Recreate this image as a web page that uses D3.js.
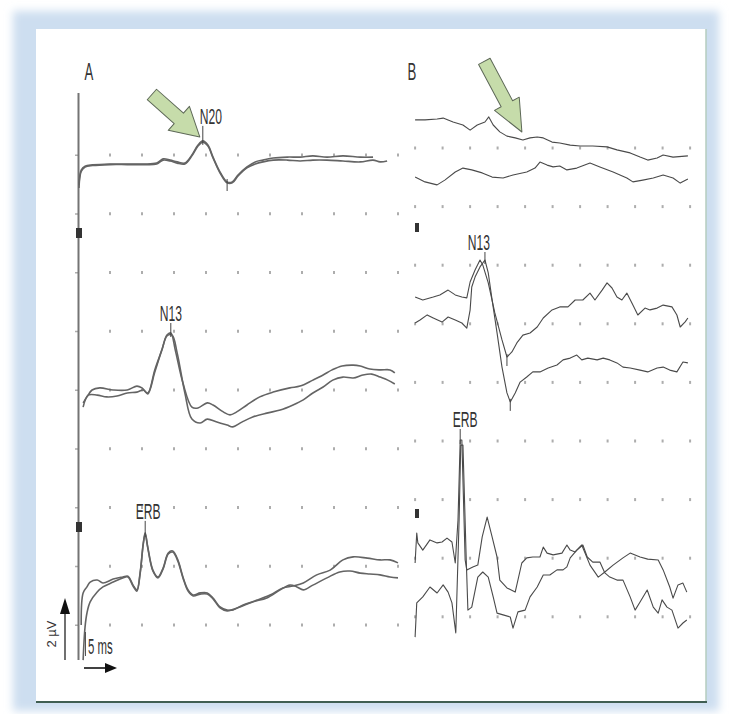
<!DOCTYPE html>
<html>
<head>
<meta charset="utf-8">
<script src="https://cdn.jsdelivr.net/npm/d3@7"></script>
<style>
body { margin: 0; background: #fff; }
text { font-family: "Liberation Sans", Arial, sans-serif; fill: #333; }
</style>
</head>
<body>
<svg id="chart" width="730" height="714"></svg>
<script>
// traces: [time ms, amplitude uV] (negative = up, EEG style)
var a1Upper = [[0.15,0.7],[0.5,0.2],[1.1,0.07],[2.3,0.03],[5,0],[7.7,0],[10.2,0],[12.3,-0.03],[13.3,-0.17],[14.4,-0.13],[15.5,-0.07],[16.7,-0.03],[17.8,-0.3],[18.75,-0.63],[19.5,-0.77],[20.3,-0.63],[21.1,-0.23],[22.2,0.27],[23.3,0.6],[24.1,0.6],[25,0.37],[26.4,0.1],[27.7,-0.07],[28.9,-0.13],[30.5,-0.2],[32.7,-0.23],[34.7,-0.23],[36.7,-0.27],[38.9,-0.23],[41.4,-0.27],[44.1,-0.23],[46.1,-0.23]];
var a1Lower = [[0.15,0.8],[0.5,0.25],[1.1,0.1],[2.3,0.05],[5,0.02],[7.7,0.02],[10.2,0.02],[12.3,0],[13.3,-0.13],[14.4,-0.1],[15.5,-0.03],[16.7,0],[17.8,-0.27],[18.75,-0.6],[19.5,-0.73],[20.3,-0.6],[21.1,-0.2],[22.2,0.3],[23.3,0.63],[24.1,0.63],[25,0.4],[26.4,0.13],[27.7,0],[28.9,-0.07],[30.5,-0.13],[32.7,-0.13],[34.7,-0.1],[36.7,-0.13],[38.9,-0.13],[41.4,-0.1],[44.1,-0.07],[46.1,-0.13],[47.2,-0.07],[48.3,-0.1]];

var a2Upper = [[0.8,0.43],[1.4,0.23],[2.2,0],[3.4,-0.07],[5.5,0],[7.7,0],[9.2,-0.13],[10,-0.07],[10.9,0.1],[12,-0.67],[13.1,-1.33],[13.9,-1.83],[14.5,-1.9],[15.2,-1.33],[16.4,-0.23],[17.8,0.57],[18.75,0.6],[20.2,0.43],[21.1,0.5],[22.7,0.73],[23.75,0.83],[24.8,0.73],[26.4,0.5],[28.4,0.23],[30.5,0.07],[33.1,-0.07],[34.7,-0.13],[36.7,-0.33],[38.3,-0.5],[39.7,-0.67],[41.25,-0.8],[43,-0.83],[44.1,-0.8],[45.6,-0.7],[47.2,-0.67],[48.75,-0.67],[49.5,-0.57]];
var a2Lower = [[0.8,0.57],[1.6,0.17],[3,0.17],[4.5,0.23],[6.1,0.2],[7.7,0.1],[9.2,0.07],[10.2,0],[10.9,0.13],[12,-0.6],[13.1,-1.33],[13.9,-1.8],[14.7,-1.83],[15.5,-1.23],[16.7,0.1],[17.8,0.97],[19.1,1.1],[20.2,0.97],[21.7,1.07],[23.3,1.17],[24.2,1.23],[25.6,1.07],[27.3,0.9],[29.5,0.77],[31.6,0.67],[33.6,0.5],[35.2,0.33],[36.7,0.1],[38.3,-0.1],[39.8,-0.33],[41.4,-0.43],[43,-0.4],[44.5,-0.5],[45.9,-0.53],[47.2,-0.43],[48.4,-0.33],[49.5,-0.2]];

var a3Upper = [[0.5,1.5],[0.8,0.43],[1.4,0.23],[1.9,0.07],[3,0],[3.9,0.1],[5.5,-0.03],[7,-0.1],[7.8,-0.13],[8.6,0.17],[9.2,0.33],[9.7,-0.23],[10.2,-1.23],[10.5,-1.57],[10.9,-1.1],[11.7,-0.33],[12.5,-0.1],[13.3,-0.4],[14.1,-0.9],[14.8,-0.97],[15.6,-0.67],[16.4,-0.1],[17.2,0.33],[18,0.5],[19.1,0.43],[20.2,0.43],[21.1,0.6],[22.2,0.9],[23.3,1],[24.2,1],[25.8,0.83],[28,0.67],[30,0.5],[32,0.27],[33.6,0.2],[35.2,0.1],[37.3,-0.17],[39.4,-0.33],[41.4,-0.67],[43,-0.77],[45.2,-0.73],[47.2,-0.67],[48.75,-0.67],[50,-0.57]];
var a3Lower = [[0.8,2.67],[1.1,1.57],[1.4,1.1],[1.9,0.73],[3,0.4],[3.9,0.23],[5.5,0.07],[7,-0.07],[7.8,-0.1],[8.6,0.2],[9.2,0.37],[9.7,-0.2],[10.2,-1.2],[10.5,-1.53],[10.9,-1.07],[11.7,-0.3],[12.5,-0.07],[13.3,-0.37],[14.1,-0.87],[14.8,-0.93],[15.6,-0.63],[16.4,-0.07],[17.2,0.37],[18,0.53],[19.1,0.47],[20.2,0.47],[21.1,0.63],[22.2,0.93],[23.3,1.03],[25.3,0.9],[27.3,0.73],[29.5,0.6],[31.6,0.33],[33.1,0.17],[34.2,0.23],[35.2,0.33],[36.7,0.17],[38.9,-0.07],[40.9,-0.27],[42.5,-0.3],[44.1,-0.23],[45.6,-0.2],[47.2,-0.17],[48.75,-0.1],[50,-0.07]];

var b1Upper = [[2.2,-0.17],[4,-0.17],[6.2,-0.2],[7.3,-0.23],[9.1,-0.1],[10.9,0],[12.2,0.17],[13.5,0],[14.9,-0.1],[15.6,-0.27],[16.4,0],[17.6,0.23],[18.9,0.37],[20.4,0.43],[21.8,0.5],[23.1,0.43],[24.4,0.4],[25.5,0.43],[27.1,0.57],[28.5,0.6],[30.4,0.67],[32.2,0.7],[34.5,0.7],[37.1,0.73],[38.9,0.83],[41.3,0.93],[43.1,1.07],[44.5,1.17],[46.2,1.1],[47.3,1],[49.1,1.07],[51.8,1.03]];
var b1Lower = [[2.2,0.07],[4,0.23],[6.2,0.33],[7.6,0.17],[9.5,-0.1],[10.9,-0.23],[12.5,-0.17],[14.4,-0.07],[16.2,0.07],[18.2,0.1],[20,0],[22.5,-0.1],[24,-0.23],[24.9,-0.43],[26.2,-0.33],[27.3,-0.27],[28.5,-0.3],[29.8,-0.17],[31.6,-0.23],[34,-0.4],[35.8,-0.27],[38.2,-0.1],[40.7,0.1],[41.8,0.23],[43.6,0.17],[45.5,0.1],[47.3,0],[49.1,0.1],[50.4,0.27],[51.8,0.13]];

var b2Upper = [[2.2,0],[3.6,0.1],[5.5,0],[6.7,-0.07],[8.2,-0.23],[9.5,-0.07],[10.7,0],[11.6,0.03],[12.2,-0.5],[13.1,-0.9],[14,-1.23],[14.5,-1.07],[15.5,-0.47],[16.7,0.53],[18,1.43],[18.9,2],[19.8,1.83],[20.7,1.53],[21.8,1.27],[23.1,1.2],[24.4,1],[25.5,0.7],[27.1,0.43],[28.5,0.33],[30,0.33],[31.3,0.1],[32.7,0.1],[34,-0.13],[34.9,0.1],[36.2,-0.23],[37.1,-0.47],[38,-0.3],[38.9,0],[39.8,0.1],[40.7,-0.13],[41.8,0.27],[42.7,0.6],[44,0.37],[44.9,0.43],[46.2,0.37],[47.3,0.27],[48.9,0.33],[49.8,0.6],[50.4,1],[51.3,0.83],[51.8,0.7]];
var b2Lower = [[2.2,0.1],[3.1,0],[4.4,-0.17],[5.5,-0.07],[7.1,0.07],[8.2,-0.1],[9.5,0],[10.7,0.1],[11.6,0.27],[12.2,-0.33],[12.5,-1.1],[13.1,-1.43],[14,-1.77],[14.9,-2],[15.5,-1.57],[16.2,-0.67],[17.1,0.43],[18,1.57],[18.9,2.43],[19.5,2.73],[20.4,2.43],[21.3,2.07],[22.5,1.9],[23.6,1.73],[24.9,1.73],[26.4,1.6],[28,1.5],[29.1,1.33],[30.4,1.27],[31.6,1.17],[32.5,1.33],[33.6,1.27],[35.3,1.33],[36.4,1.27],[37.6,1.33],[38.9,1.43],[40,1.57],[41.3,1.6],[43.1,1.67],[44.5,1.73],[46.2,1.6],[47.3,1.57],[48.5,1.67],[49.8,1.73],[50.9,1.4],[51.8,1.43]];

var b3Upper = [[2.2,0.6],[2.5,-0.4],[2.7,-0.07],[3.6,0.17],[4.9,-0.17],[6.2,-0.07],[7.1,-0.1],[8,-0.23],[8.9,-0.1],[9.5,0.6],[10,-0.83],[10.4,-3.5],[10.7,-3.5],[11.3,0.5],[11.6,0.83],[12.7,0.73],[13.6,0.67],[14.4,-0.27],[15.3,-0.93],[16.2,-0.27],[17.1,0.4],[17.6,1.17],[18.9,1.43],[20.4,1.57],[21.6,0.6],[22.5,0.43],[23.6,0.4],[24.9,0.4],[25.5,0.07],[26.2,0.27],[27.3,0.33],[28.9,0.27],[29.8,0],[30.4,0.17],[31.3,0.23],[32.5,0],[34,0.67],[35.5,1.07],[36.7,0.9],[38.2,0.67],[40,0.43],[41.3,0.27],[43.1,0.4],[44.5,0.47],[46.4,0.5],[47.3,0.83],[48.5,1.4],[49.1,1.77],[50,1.33],[50.9,1.27],[51.6,1.57]];
var b3Lower = [[2.2,1.57],[2.5,0.43],[3.6,0.23],[4.9,-0.1],[6.2,0.1],[7.3,-0.17],[8.2,0.07],[8.9,0.43],[9.6,1.43],[10.2,-2.33],[10.5,-4.83],[10.9,-4.83],[11.5,-1],[11.8,0.67],[12.5,0.57],[13.6,-0.43],[14.5,-0.6],[15.5,-0.43],[16.4,0.23],[17.1,0.77],[18.2,0.83],[19.5,0.9],[20,1.27],[20.9,0.73],[22.2,0.67],[23.1,0.23],[24.4,-0.1],[25.5,-0.5],[26.7,-0.5],[28,-0.67],[29.1,-0.67],[29.8,-0.77],[30.4,-1.07],[31.6,-1.33],[32.7,-1.5],[33.5,-1.1],[34.5,-0.93],[35.8,-0.93],[36.7,-0.57],[37.6,-0.43],[38.9,-0.33],[40,-0.33],[41.3,0.23],[42.2,0.67],[43.1,0.4],[44.4,0],[45.5,0.57],[46.4,0.77],[47.1,0.33],[48,0.57],[48.9,0.67],[50,1.27],[50.9,1.1],[51.6,1]];

// component labels
var peakNames = ["N20", "N13", "ERB", "N13", "ERB"];
var peakTimes = [19.5, 14.5, 10.5, 14.9, 10.4];
var panelNames = ["A", "B"];
var scaleTexts = ["2 µV", "5 ms"];

var svg = d3.select("#chart");
var gain = 30; // px per uV

var xA = d3.scaleLinear().domain([0, 50]).range([78, 398]);
var xB = d3.scaleLinear().domain([0, 50]).range([403, 678]);

// frame
var defs = svg.append("defs");
defs.append("filter").attr("id", "soft")
  .append("feGaussianBlur").attr("stdDeviation", 4);

svg.append("rect").attr("x", 13).attr("y", 11).attr("width", 706).attr("height", 700)
  .attr("fill", "#cddef0").attr("filter", "url(#soft)");
svg.append("rect").attr("x", 36).attr("y", 29).attr("width", 670).attr("height", 673)
  .attr("fill", "#fff");
svg.append("line").attr("x1", 706).attr("x2", 706).attr("y1", 29).attr("y2", 702)
  .attr("stroke", "#b4cdbf").attr("stroke-width", 1.5);
svg.append("line").attr("x1", 36).attr("x2", 707).attr("y1", 702).attr("y2", 702)
  .attr("stroke", "#3f5e52").attr("stroke-width", 2);

// dot grid
var rowsA = d3.range(9).map(function(i) { return 155 + i * 58.75; });
var rowsB = d3.range(9).map(function(i) { return 148 + i * 58.6; });
var colsA = d3.range(5, 51, 5);
var colsB = d3.range(11).map(function(i) { return 2.2 + i * 5; });

var grid = svg.append("g").attr("fill", "#adadad");
rowsA.forEach(function(y) {
  colsA.forEach(function(t) {
    grid.append("rect").attr("x", xA(t) - 1).attr("y", y - 1.5).attr("width", 2).attr("height", 3);
  });
  grid.append("rect").attr("x", 75).attr("y", y - 0.5).attr("width", 3).attr("height", 1.5);
});
rowsB.forEach(function(y) {
  colsB.forEach(function(t) {
    grid.append("rect").attr("x", xB(t) - 1).attr("y", y - 1.5).attr("width", 2).attr("height", 3);
  });
});

// stimulus / axis line of panel A
svg.append("line").attr("x1", 78.5).attr("x2", 78.5).attr("y1", 93).attr("y2", 660)
  .attr("stroke", "#747474").attr("stroke-width", 2);

// channel markers
svg.append("rect").attr("x", 76).attr("y", 228).attr("width", 6).attr("height", 10).attr("fill", "#333");
svg.append("rect").attr("x", 76).attr("y", 522).attr("width", 6).attr("height", 10).attr("fill", "#333");
svg.append("rect").attr("x", 415).attr("y", 223).attr("width", 4).attr("height", 9).attr("fill", "#333");
svg.append("rect").attr("x", 415).attr("y", 509).attr("width", 4).attr("height", 9).attr("fill", "#333");

// traces
var traces = [
  {data: a1Upper, x: xA, base: 164}, {data: a1Lower, x: xA, base: 164},
  {data: a2Upper, x: xA, base: 390}, {data: a2Lower, x: xA, base: 390},
  {data: a3Upper, x: xA, base: 580}, {data: a3Lower, x: xA, base: 580},
  {data: b1Upper, x: xB, base: 125}, {data: b1Lower, x: xB, base: 175},
  {data: b2Upper, x: xB, base: 297}, {data: b2Lower, x: xB, base: 320},
  {data: b3Upper, x: xB, base: 545}, {data: b3Lower, x: xB, base: 590}
];

function yOf(tr, v) { return tr.base + v * gain; }

traces.forEach(function(tr) {
  var isA = tr.x === xA;
  var line = d3.line()
    .x(function(d) { return tr.x(d[0]); })
    .y(function(d) { return yOf(tr, d[1]); })
    .curve(isA ? d3.curveCatmullRom : d3.curveLinear);
  svg.append("path").datum(tr.data)
    .attr("d", line)
    .attr("fill", "none")
    .attr("stroke", isA ? "#646464" : "#4a4a4a")
    .attr("stroke-width", isA ? 1.6 : 1.1)
    .attr("stroke-linejoin", "round");
});

// peak labels and ticks
var peakTraces = [traces[0], traces[2], traces[4], traces[9], traces[10]];
var labelDx = [8, 0, 3, -6, 5];
var labelDy = [-17, -12, -14, -10, -13];

function condensed(x, y, txt, size, sx, anchor) {
  return svg.append("text")
    .attr("transform", "translate(" + x + "," + y + ") scale(" + sx + ",1)")
    .attr("text-anchor", anchor || "middle")
    .style("font-size", size + "px")
    .text(txt);
}

peakNames.forEach(function(name, i) {
  var tr = peakTraces[i];
  var pt = tr.data.find(function(d) { return d[0] === peakTimes[i]; });
  var px = tr.x(pt[0]), py = yOf(tr, pt[1]);
  condensed(px + labelDx[i], py + labelDy[i], name, 22, 0.55);
  svg.append("line").attr("x1", px).attr("x2", px)
    .attr("y1", py + labelDy[i] + 2).attr("y2", py + 4)
    .attr("stroke", "#444").attr("stroke-width", 1);
});

// trough ticks
[[traces[0], 23.3], [traces[8], 18.9], [traces[9], 19.5]].forEach(function(p) {
  var tr = p[0];
  var pt = tr.data.find(function(d) { return d[0] === p[1]; });
  var px = tr.x(pt[0]), py = yOf(tr, pt[1]);
  svg.append("line").attr("x1", px).attr("x2", px).attr("y1", py - 3).attr("y2", py + 9)
    .attr("stroke", "#444").attr("stroke-width", 1);
});

// panel letters
condensed(89, 80, panelNames[0], 24, 0.55);
condensed(412, 80, panelNames[1], 24, 0.55);

// green arrows pointing at the responses
function arrow(tipX, tipY, angle, L, hl, hw, sw) {
  var pts = [[0, 0], [-hl, hw / 2], [-hl, sw / 2], [-L, sw / 2], [-L, -sw / 2], [-hl, -sw / 2], [-hl, -hw / 2]];
  svg.append("path")
    .attr("d", "M" + pts.map(function(p) { return p.join(","); }).join("L") + "Z")
    .attr("transform", "translate(" + tipX + "," + tipY + ") rotate(" + angle + ")")
    .attr("fill", "#c6dcaa")
    .attr("stroke", "#5d6857")
    .attr("stroke-width", 1)
    .attr("stroke-linejoin", "round");
}
var n20 = a1Upper.find(function(d) { return d[0] === 19.5; });
arrow(xA(n20[0]) - 3, yOf(traces[0], n20[1]) - 4, 41.5, 64, 28, 32, 14);
var bPt = b1Upper.find(function(d) { return d[0] === 21.8; });
arrow(xB(bPt[0]) - 1, yOf(traces[6], bPt[1]) - 8, 62, 80, 32, 28, 13);

// calibration
svg.append("line").attr("x1", 65).attr("x2", 65).attr("y1", 660).attr("y2", 612)
  .attr("stroke", "#111").attr("stroke-width", 1.2);
svg.append("path").attr("d", "M60,614L70,614L65,598Z").attr("fill", "#111");
svg.append("text")
  .attr("transform", "translate(56,634) rotate(-90)")
  .attr("text-anchor", "middle")
  .style("font-size", "13px")
  .text(scaleTexts[0]);
svg.append("line").attr("x1", 84).attr("x2", 108).attr("y1", 668).attr("y2", 668)
  .attr("stroke", "#111").attr("stroke-width", 1.6);
svg.append("path").attr("d", "M105,663L105,673L117,668Z").attr("fill", "#111");
svg.append("line").attr("x1", 85.5).attr("x2", 85.5).attr("y1", 632).attr("y2", 656)
  .attr("stroke", "#555").attr("stroke-width", 1);
condensed(88, 654, scaleTexts[1], 22, 0.52, "start");
</script>
</body>
</html>
